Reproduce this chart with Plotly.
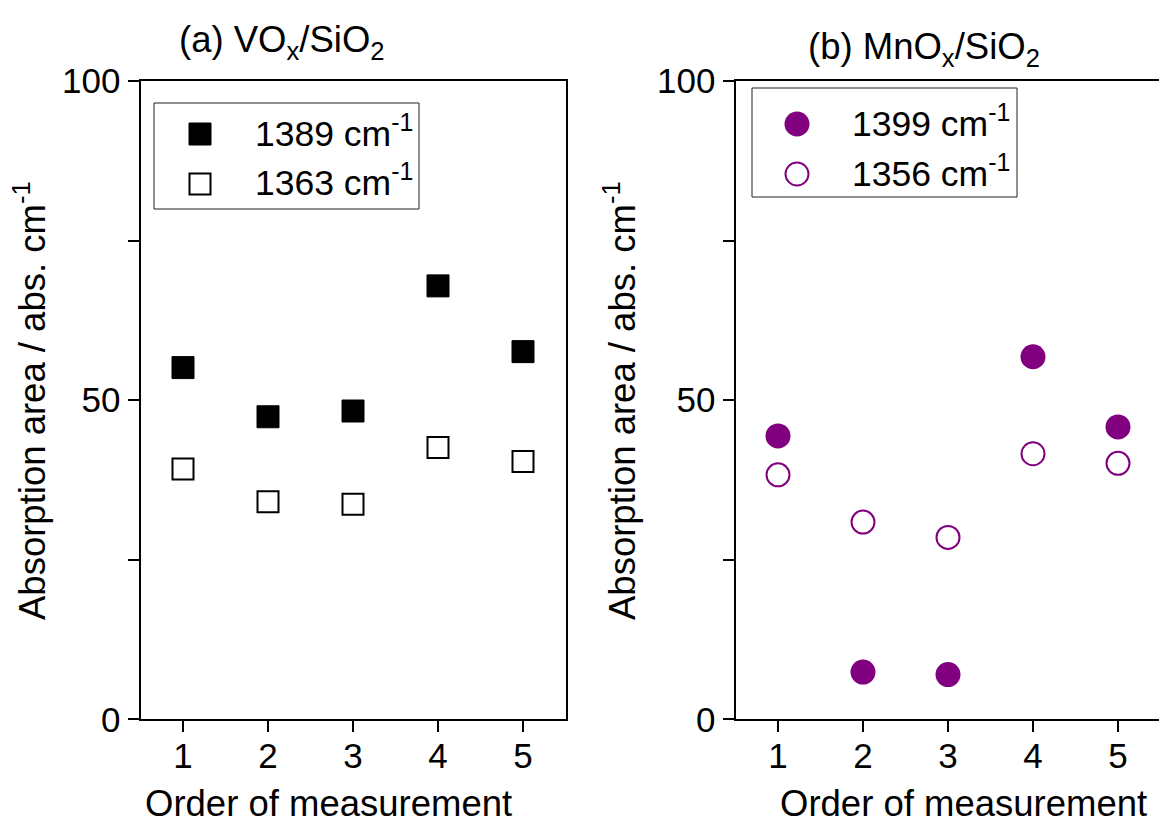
import plotly.graph_objects as go

# Measurement order (x) and integrated absorption areas (abs. cm^-1)
order = [1, 2, 3, 4, 5]

vox_1389 = [55.1, 47.4, 48.3, 67.9, 57.6]
vox_1363 = [39.2, 34.1, 33.7, 42.6, 40.4]

mnox_1399 = [44.4, 7.4, 7.0, 56.8, 45.8]
mnox_1356 = [38.3, 30.9, 28.5, 41.6, 40.1]

series_names_a = ["1389 cm<sup>-1</sup>", "1363 cm<sup>-1</sup>"]
series_names_b = ["1399 cm<sup>-1</sup>", "1356 cm<sup>-1</sup>"]

y_tickvals = [0, 25, 50, 75, 100]
y_ticktext = ["0", "", "50", "", "100"]

W, H = 1159, 825
FONT = "Arial, Liberation Sans, sans-serif"
TXT = 36.5
LEG = 35.5
TICK = 35
PURPLE = "#800080"

# marker styles per series
sty_filled_sq = dict(symbol="square", size=22, color="black",
                     line=dict(color="black", width=1))
sty_open_sq = dict(symbol="square-open", size=21, color="black",
                   line=dict(color="black", width=2))
sty_filled_ci = dict(symbol="circle", size=25, color=PURPLE,
                     line=dict(color=PURPLE, width=0))
sty_open_ci = dict(symbol="circle-open", size=23, color=PURPLE,
                   line=dict(color=PURPLE, width=2))


def px(x):
    return x / W


def py(y):
    return 1 - y / H


fig = go.Figure()

# (a) VOx/SiO2
fig.add_trace(go.Scatter(x=order, y=vox_1389, mode="markers",
                         name=series_names_a[0], marker=sty_filled_sq,
                         xaxis="x", yaxis="y", showlegend=False))
fig.add_trace(go.Scatter(x=order, y=vox_1363, mode="markers",
                         name=series_names_a[1], marker=sty_open_sq,
                         xaxis="x", yaxis="y", showlegend=False))

# (b) MnOx/SiO2
fig.add_trace(go.Scatter(x=order, y=mnox_1399, mode="markers",
                         name=series_names_b[0], marker=sty_filled_ci,
                         xaxis="x2", yaxis="y2", showlegend=False))
fig.add_trace(go.Scatter(x=order, y=mnox_1356, mode="markers",
                         name=series_names_b[1], marker=sty_open_ci,
                         xaxis="x2", yaxis="y2", showlegend=False))

axis_common = dict(
    showgrid=False, zeroline=False, showline=True, linecolor="black",
    linewidth=2, ticks="outside", ticklen=11, tickwidth=2,
    tickcolor="black", automargin=False,
    tickfont=dict(family=FONT, size=TICK, color="black"),
)

left_dom = [px(140.5), px(565.5)]
right_dom = [px(735.5), 1.0]
y_dom = [py(719.3), py(81)]

fig.update_layout(
    template="none",
    width=W, height=H,
    margin=dict(l=0, r=0, t=0, b=0, pad=0, autoexpand=False),
    paper_bgcolor="white", plot_bgcolor="rgba(0,0,0,0)",
    font=dict(family=FONT, size=TXT, color="black"),
    showlegend=False,
    xaxis=dict(domain=left_dom, range=[0.5, 5.5], tickvals=order,
               mirror=True, anchor="y", ticklabelstandoff=-6, **axis_common),
    yaxis=dict(domain=y_dom, range=[0, 100], tickvals=y_tickvals,
               ticktext=y_ticktext, mirror=True, anchor="x", **axis_common),
    xaxis2=dict(domain=right_dom, range=[0.5, 0.5 + (W - 735.5) / 85],
                tickvals=order, mirror=True, anchor="y2",
                ticklabelstandoff=-6, **axis_common),
    yaxis2=dict(domain=y_dom, range=[0, 100], tickvals=y_tickvals,
                ticktext=y_ticktext, mirror=False, anchor="x2", **axis_common),
    # full-page pixel frame used for the legend keys
    xaxis3=dict(domain=[0, 1], range=[0, W], visible=False, fixedrange=True,
                anchor="y3"),
    yaxis3=dict(domain=[0, 1], range=[H, 0], visible=False, fixedrange=True,
                anchor="x3"),
)

# Legend boxes, keys and labels for both panels
legends = [
    dict(box=(154, 103, 419, 209), key_x=200, rows=(134, 184), text_x=253,
         styles=(sty_filled_sq, sty_open_sq), names=series_names_a),
    dict(box=(752, 88, 1017, 197), key_x=797, rows=(124, 174), text_x=850,
         styles=(sty_filled_ci, sty_open_ci), names=series_names_b),
]
for lg in legends:
    x0, y0, x1, y1 = lg["box"]
    fig.add_shape(type="rect", xref="paper", yref="paper",
                  x0=px(x0), x1=px(x1), y0=py(y1), y1=py(y0),
                  line=dict(color="#222222", width=1), fillcolor="white",
                  layer="below")
    for ry, st, nm in zip(lg["rows"], lg["styles"], lg["names"]):
        fig.add_trace(go.Scatter(x=[lg["key_x"]], y=[ry], mode="markers",
                                 marker=st, xaxis="x3", yaxis="y3",
                                 hoverinfo="skip", showlegend=False))
        fig.add_annotation(xref="paper", yref="paper", showarrow=False,
                           x=px(lg["text_x"]), y=py(ry - 3),
                           xanchor="left", yanchor="middle", text=nm,
                           font=dict(family=FONT, size=LEG, color="black"))

annotations = [
    dict(text="(a) VO<sub>x</sub>/SiO<sub>2</sub>", x=px(282), y=py(42)),
    dict(text="(b) MnO<sub>x</sub>/SiO<sub>2</sub>", x=px(924), y=py(49)),
    dict(text="Order of measurement", x=px(329), y=py(803)),
    dict(text="Order of measurement", x=px(963), y=py(803)),
    dict(text="Absorption area / abs. cm<sup>-1</sup>", x=px(30), y=py(401),
         textangle=-90),
    dict(text="Absorption area / abs. cm<sup>-1</sup>", x=px(620), y=py(401),
         textangle=-90),
]
for a in annotations:
    fig.add_annotation(xref="paper", yref="paper", showarrow=False,
                       xanchor="center", yanchor="middle",
                       font=dict(family=FONT, size=TXT, color="black"), **a)

fig.write_html("out.html")
